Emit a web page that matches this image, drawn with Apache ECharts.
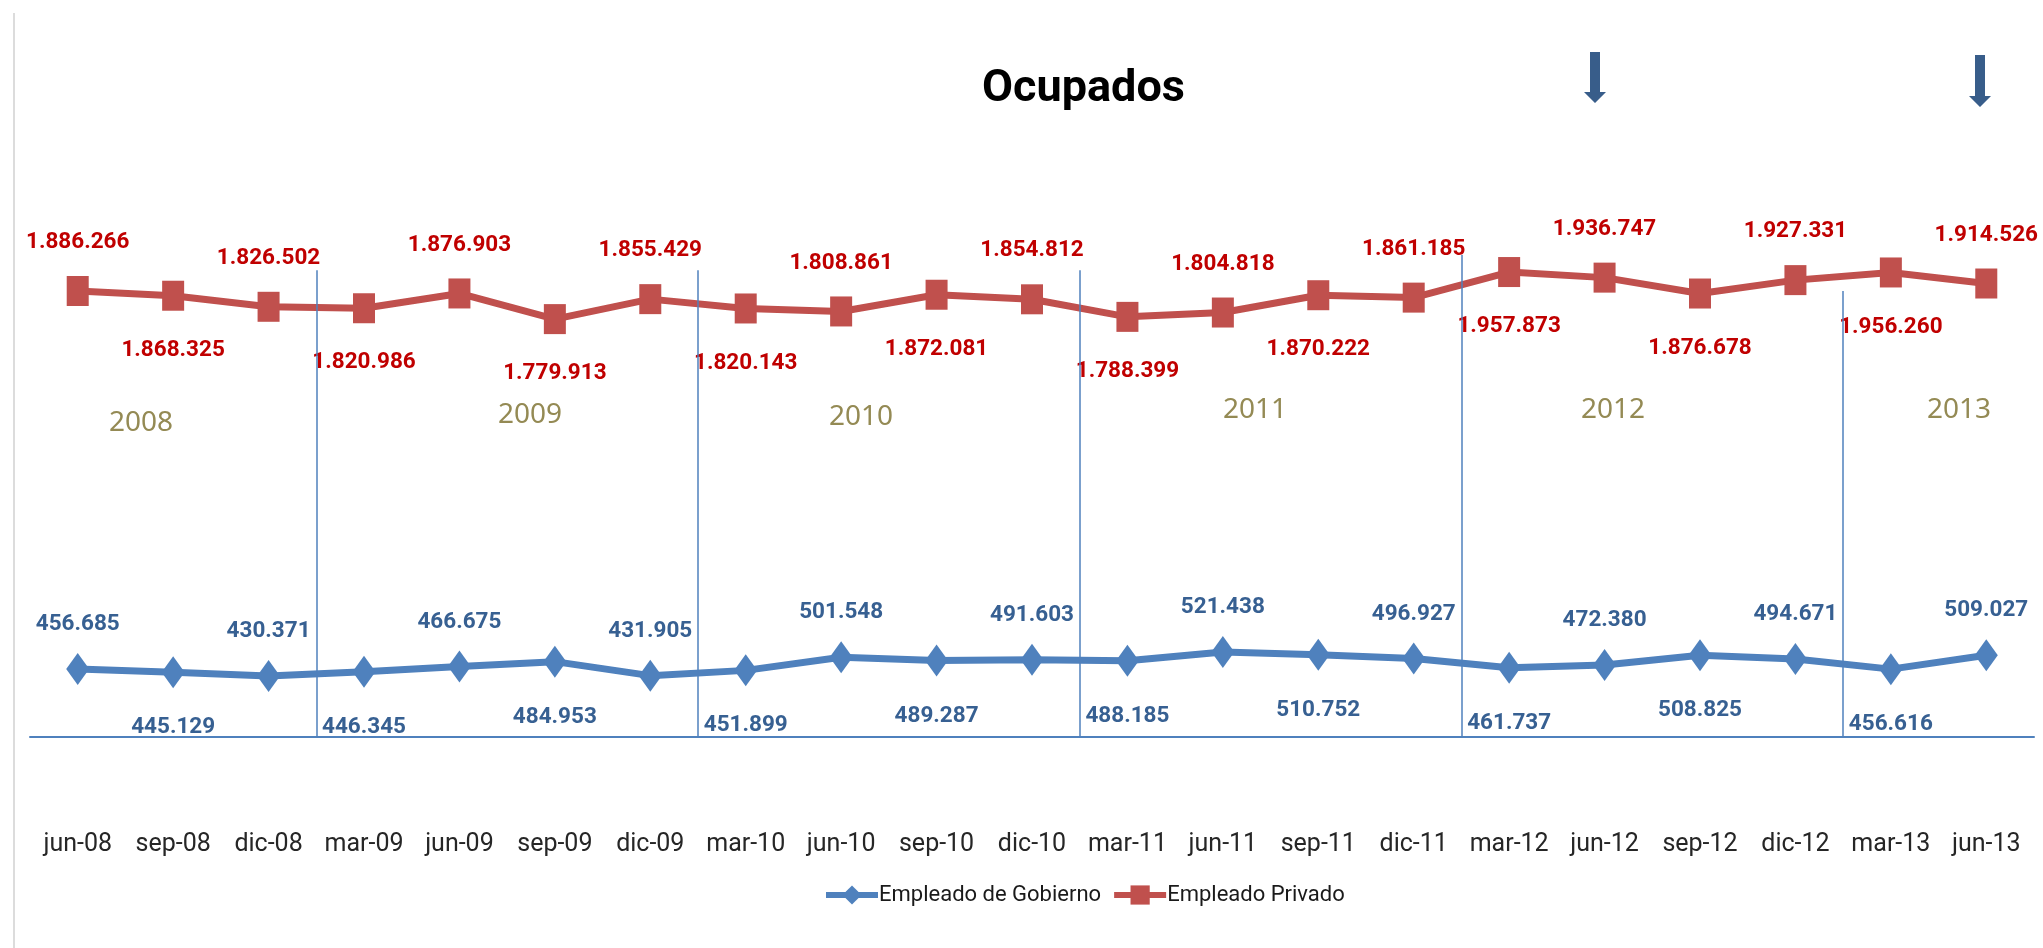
<!DOCTYPE html>
<html>
<head>
<meta charset="utf-8">
<title>Ocupados</title>
<script src="https://cdn.jsdelivr.net/npm/echarts@6/dist/echarts.min.js"></script>
<style>
  html, body { margin: 0; padding: 0; background: #fff; }
  #chart { width: 2043px; height: 948px; }
</style>
</head>
<body>
<div id="chart"></div>
<script>
// trimestres
var categories = ['jun-08', 'sep-08', 'dic-08', 'mar-09', 'jun-09', 'sep-09', 'dic-09',
  'mar-10', 'jun-10', 'sep-10', 'dic-10', 'mar-11', 'jun-11', 'sep-11', 'dic-11',
  'mar-12', 'jun-12', 'sep-12', 'dic-12', 'mar-13', 'jun-13']

// Empleado de Gobierno
var gobierno = [456685, 445129, 430371, 446345, 466675, 484953, 431905,
  451899, 501548, 489287, 491603, 488185, 521438, 510752, 496927,
  461737, 472380, 508825, 494671, 456616, 509027]

// Empleado Privado
var privado = [1886266, 1868325, 1826502, 1820986, 1876903, 1779913, 1855429,
  1820143, 1808861, 1872081, 1854812, 1788399, 1804818, 1870222, 1861185,
  1957873, 1936747, 1876678, 1927331, 1956260, 1914526]

var years = ['2008', '2009', '2010', '2011', '2012', '2013']

var font = "Roboto, 'Noto Sans', sans-serif"

// 1886266 -> 1.886.266
function fmt(v) {
  return String(v).replace(/\B(?=(\d{3})+(?!\d))/g, '.')
}

// etiquetas alternadas arriba / abajo
function withLabels(arr, upDist, downDist) {
  return arr.map(function (v, i) {
    var up = i % 2 === 0
    return { value: v, label: { position: up ? 'top' : 'bottom', distance: up ? upDist : downDist } }
  })
}

function arrow(cx, top, bottom) {
  var head = 11
  return {
    type: 'polygon',
    shape: {
      points: [
        [cx - 5, top], [cx + 5, top], [cx + 5, bottom - head], [cx + 11, bottom - head],
        [cx, bottom], [cx - 11, bottom - head], [cx - 5, bottom - head]
      ]
    },
    style: { fill: '#385D8A' },
    silent: true
  }
}

var yearPos = [[141, 423], [530, 415], [861, 417], [1255, 410], [1613, 410], [1959, 410]]

var chart = echarts.init(document.getElementById('chart'))

var option = {
  backgroundColor: '#fff',
  animation: false,
  title: {
    text: 'Ocupados',
    left: 977,
    top: 62,
    textStyle: { fontFamily: font, fontWeight: 'bold', fontSize: 45, color: '#000' }
  },
  legend: {
    data: ['Empleado de Gobierno', 'Empleado Privado'],
    left: 818,
    top: 879,
    itemWidth: 52,
    itemHeight: 24,
    itemGap: 10,
    lineStyle: { width: 6 },
    textStyle: { fontFamily: font, fontSize: 22, color: '#1a1a1a', padding: [0, 0, 0, -4] }
  },
  grid: { left: 30, right: 9, top: 208, bottom: 211 },
  xAxis: [
    {
      type: 'category',
      data: categories,
      boundaryGap: true,
      axisLine: { lineStyle: { color: '#4F81BD', width: 2 } },
      axisTick: { show: false },
      axisLabel: { margin: 95, fontFamily: font, fontSize: 25, color: '#262626', interval: 0 },
      splitLine: { show: false }
    },
    {
      // eje auxiliar para los separadores de año
      type: 'value',
      min: -0.5,
      max: 20.5,
      show: false
    }
  ],
  yAxis: {
    type: 'value',
    min: 200000,
    max: 2200000,
    show: false,
    splitLine: { show: false }
  },
  series: [
    {
      name: 'Empleado de Gobierno',
      type: 'line',
      data: withLabels(gobierno, 17, 28),
      symbol: 'diamond',
      symbolSize: [23, 32],
      lineStyle: { color: '#4F81BD', width: 7 },
      itemStyle: { color: '#4F81BD' },
      label: {
        show: true,
        formatter: function (p) { return fmt(p.value) },
        fontFamily: font,
        fontWeight: 'bold',
        fontSize: 22.5,
        color: '#376092'
      },
      z: 3
    },
    {
      name: 'Empleado Privado',
      type: 'line',
      data: withLabels(privado, 22, 28),
      symbol: 'rect',
      symbolSize: [22, 30],
      lineStyle: { color: '#C0504D', width: 7 },
      itemStyle: { color: '#C0504D' },
      label: {
        show: true,
        formatter: function (p) { return fmt(p.value) },
        fontFamily: font,
        fontWeight: 'bold',
        fontSize: 22.5,
        color: '#C00000'
      },
      z: 3
    },
    {
      // separadores de año
      type: 'line',
      xAxisIndex: 1,
      data: [],
      silent: true,
      markLine: {
        silent: true,
        symbol: 'none',
        label: { show: false },
        lineStyle: { color: '#4F81BD', width: 1.5, type: 'solid' },
        data: [
          [{ coord: [2.5, 1965000] }, { coord: [2.5, 200000] }],
          [{ coord: [6.5, 1965000] }, { coord: [6.5, 200000] }],
          [{ coord: [10.5, 1965000] }, { coord: [10.5, 200000] }],
          [{ coord: [14.5, 2022000] }, { coord: [14.5, 200000] }],
          [{ coord: [18.5, 1886000] }, { coord: [18.5, 200000] }]
        ]
      },
      z: 1
    }
  ],
  graphic: [
    {
      type: 'line',
      shape: { x1: 14, y1: 13, x2: 14, y2: 948 },
      style: { stroke: '#d0d0d0', lineWidth: 1.5 },
      silent: true
    },
    arrow(1595, 52, 103),
    arrow(1980, 55, 107)
  ].concat(years.map(function (y, i) {
    return {
      type: 'text',
      x: yearPos[i][0],
      y: yearPos[i][1],
      style: {
        text: y,
        fill: '#948A54',
        font: "28px 'Noto Sans', sans-serif",
        textAlign: 'center',
        textVerticalAlign: 'middle'
      },
      silent: true
    }
  }))
}

chart.setOption(option)
</script>
</body>
</html>
